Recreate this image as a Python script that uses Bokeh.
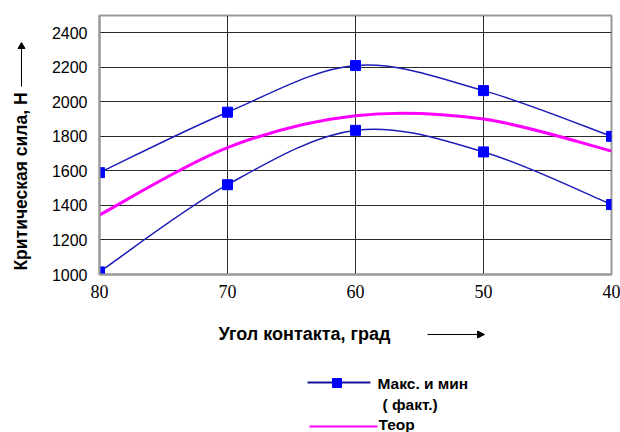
from bokeh.plotting import figure
from bokeh.layouts import column, row
from bokeh.models import Range1d, FixedTicker, Arrow, NormalHead
from bokeh.core.properties import value
from bokeh.embed import file_html
from bokeh.resources import INLINE
import math

# ---- data ----
angles = [80, 70, 60, 50, 40]
force_max = [1590, 1940, 2210, 2065, 1800]
force_min = [1015, 1520, 1835, 1710, 1405]
force_theor = [1345, 1735, 1920, 1900, 1715]
y_ticks = [1000, 1200, 1400, 1600, 1800, 2000, 2200, 2400]
x_ticks = [80, 70, 60, 50, 40]
y_title = "Критическая сила, Н"
x_title = "Угол контакта, град"
legend_texts = ["Макс. и мин", "( факт.)", "Теор"]

W, H = 620, 432
LEFT_W = 45          # strip holding the y title
TOP_H = 310          # height of the chart row
FL, FR, FT, FB = 99, 611, 15, 274   # frame edges in page pixels
FONT = "Liberation Sans"
BLUE_LINE = "#1c1cb8"
BLUE_MARK = "#0000ff"
MAGENTA = "#ff00ff"


def blank(width, height, xr, yr):
    f = figure(width=width, height=height, output_backend="svg",
               toolbar_location=None, x_range=xr, y_range=yr,
               x_axis_type=None, y_axis_type=None,
               min_border=0, min_border_left=0, min_border_right=0,
               min_border_top=0, min_border_bottom=0)
    f.grid.visible = False
    f.outline_line_color = None
    f.background_fill_color = "white"
    f.border_fill_color = "white"
    return f


# ---------- main chart ----------
p = figure(width=W - LEFT_W, height=TOP_H, output_backend="svg", toolbar_location=None,
           x_range=Range1d(80, 40), y_range=Range1d(1000, 2500),
           min_border_left=FL - LEFT_W, min_border_right=W - FR, min_border_top=FT,
           min_border_bottom=TOP_H - FB)
p.background_fill_color = "white"
p.border_fill_color = "white"
p.outline_line_color = "#9a9a9a"
p.outline_line_width = 2

p.xaxis.ticker = FixedTicker(ticks=x_ticks)
p.yaxis.ticker = FixedTicker(ticks=y_ticks)
for ax in (p.xaxis, p.yaxis):
    ax.axis_line_color = "#9a9a9a"
    ax.axis_line_width = 2
    ax.major_tick_line_color = None
    ax.minor_tick_line_color = None
    ax.major_tick_out = 0
    ax.major_tick_in = 0
    ax.major_label_text_color = "black"
p.yaxis.major_label_text_font = FONT
p.yaxis.major_label_text_font_size = "16px"
p.yaxis.major_label_standoff = 12
p.xaxis.major_label_text_font = "Liberation Serif"
p.xaxis.major_label_text_font_size = "18px"
p.xaxis.major_label_standoff = 10

p.xgrid.grid_line_color = "#2a2a2a"
p.ygrid.grid_line_color = "#2a2a2a"
p.xgrid.grid_line_width = 1
p.ygrid.grid_line_width = 1


def smooth(xs, ys):
    """Bezier pieces of a smoothed curve through the given points."""
    n = len(xs)
    out = dict(x0=[], y0=[], x1=[], y1=[], cx0=[], cy0=[], cx1=[], cy1=[])
    for i in range(n - 1):
        a = max(i - 1, 0)
        d = min(i + 2, n - 1)
        out["x0"].append(xs[i]); out["y0"].append(ys[i])
        out["x1"].append(xs[i + 1]); out["y1"].append(ys[i + 1])
        out["cx0"].append(xs[i] + (xs[i + 1] - xs[a]) / 6)
        out["cy0"].append(ys[i] + (ys[i + 1] - ys[a]) / 6)
        out["cx1"].append(xs[i + 1] - (xs[d] - xs[i]) / 6)
        out["cy1"].append(ys[i + 1] - (ys[d] - ys[i]) / 6)
    return out


for ys in (force_max, force_min):
    p.bezier(line_color=BLUE_LINE, line_width=1.5, **smooth(angles, ys))
p.bezier(line_color=MAGENTA, line_width=3, **smooth(angles, force_theor))
for ys in (force_max, force_min):
    p.scatter(angles, ys, marker="square", size=10, fill_color=BLUE_MARK,
              line_color=BLUE_MARK)

# ---------- left strip: y title and arrow ----------
# its frame is aligned with the chart frame, so its range spans page rows FT..FB
left = blank(LEFT_W, TOP_H, Range1d(0, LEFT_W), Range1d(FB, FT))
left.text(x=[20], y=[181], text=[y_title], angle=math.pi / 2,
          text_align="center", text_baseline="middle",
          text_font=value(FONT), text_font_size="17.5px", text_font_style="bold",
          text_color="black")
left.segment(x0=[21], y0=[86], x1=[21], y1=[47],
             line_color="black", line_width=1)
left.scatter(x=[21], y=[46], marker="triangle", size=7,
             fill_color="black", line_color="black")

# ---------- bottom strip: x title, arrow, legend (page pixel coordinates) ----------
bot = blank(W, H - TOP_H, Range1d(0, W), Range1d(H, TOP_H))
bot.text(x=[218], y=[333], text=[x_title],
         text_align="left", text_baseline="middle",
         text_font=value(FONT), text_font_size="18px", text_font_style="bold",
         text_color="black")
bot.add_layout(Arrow(x_start=427, y_start=334, x_end=484, y_end=334,
                     line_color="black", line_width=1,
                     end=NormalHead(size=7, fill_color="black", line_color="black")))
bot.segment(x0=[307], y0=[382], x1=[370], y1=[382], line_color="#14149a", line_width=2)
bot.scatter(x=[336.5], y=[382.5], marker="square", size=9,
            fill_color=BLUE_MARK, line_color=BLUE_MARK)
bot.segment(x0=[309], y0=[426], x1=[377], y1=[426], line_color=MAGENTA, line_width=2)
bot.text(x=[377, 382, 378], y=[383, 404, 424], text=legend_texts,
         text_align="left", text_baseline="middle",
         text_font=value(FONT), text_font_size="15.5px", text_font_style="bold",
         text_color="black")

layout = column(row(left, p, spacing=0), bot, spacing=0)
open("out.html", "w").write(file_html(layout, INLINE))
